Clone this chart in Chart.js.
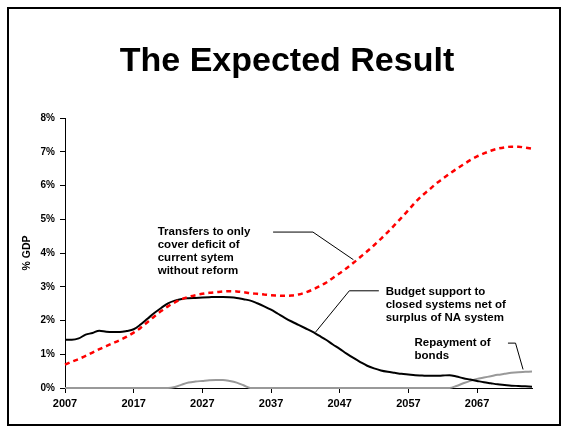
<!DOCTYPE html>
<html>
<head>
<meta charset="utf-8">
<script src="https://cdn.jsdelivr.net/npm/chart.js@4.4.1/dist/chart.umd.min.js"></script>
<style>
    body { margin: 0; background: #fff; }
    #box { width: 563px; height: 428px; }
</style>
</head>
<body>
<div id="box"><canvas id="graficoResultado"></canvas></div>
<script>
const anos = [];
for (let a = 2007; a <= 2075; a++) anos.push(a);

const anosTick = [2007, 2017, 2027, 2037, 2047, 2057, 2067];

const titulo = 'The Expected Result';

// Budget support to closed systems net of surplus of NA system
const apoioOrcamento = [
    1.43, 1.43, 1.47, 1.58, 1.63, 1.70, 1.67, 1.66, 1.66, 1.69,
    1.74, 1.88, 2.05, 2.22, 2.37, 2.51, 2.59, 2.64, 2.66, 2.67,
    2.68, 2.69, 2.70, 2.70, 2.69, 2.67, 2.63, 2.59, 2.51, 2.42,
    2.32, 2.20, 2.08, 1.97, 1.87, 1.77, 1.67, 1.55, 1.43, 1.29,
    1.16, 1.02, 0.89, 0.77, 0.66, 0.58, 0.52, 0.48, 0.45, 0.42,
    0.40, 0.38, 0.37, 0.36, 0.36, 0.37, 0.38, 0.34, 0.29, 0.25,
    0.21, 0.17, 0.14, 0.11, 0.09, 0.07, 0.06, 0.05, 0.04
];

// Transfers to only cover deficit of current system without reform
const transferencias = [
    0.69, 0.78, 0.86, 0.95, 1.05, 1.15, 1.24, 1.33, 1.42, 1.52,
    1.64, 1.78, 1.95, 2.12, 2.28, 2.42, 2.54, 2.63, 2.70, 2.75,
    2.79, 2.82, 2.84, 2.86, 2.87, 2.86, 2.84, 2.81, 2.79, 2.77,
    2.75, 2.74, 2.73, 2.74, 2.77, 2.83, 2.91, 3.01, 3.12, 3.26,
    3.40, 3.55, 3.71, 3.88, 4.05, 4.23, 4.42, 4.62, 4.83, 5.05,
    5.27, 5.50, 5.70, 5.87, 6.05, 6.20, 6.35, 6.49, 6.62, 6.75,
    6.86, 6.95, 7.03, 7.09, 7.13, 7.15, 7.15, 7.12, 7.09
];

// Repayment of bonds
const pagamentoTitulos = [
    0, 0, 0, 0, 0, 0, 0, 0, 0, 0,
    0, 0, 0, 0, 0, 0, 0.03, 0.10, 0.16, 0.19,
    0.21, 0.23, 0.24, 0.24, 0.21, 0.16, 0.08, 0, 0, 0,
    0, 0, 0, 0, 0, 0, 0, 0, 0, 0,
    0, 0, 0, 0, 0, 0, 0, 0, 0, 0,
    0, 0, 0, 0, 0, 0, 0, 0.06, 0.14, 0.21,
    0.27, 0.31, 0.35, 0.39, 0.42, 0.45, 0.47, 0.48, 0.49
];

// notes: text anchor and connector in data units (year, %)
const notas = [
    { linhas: ['Transfers to only', 'cover deficit of', 'current sytem', 'without reform'],
      texto: [2020.5, 4.62], ligacao: [[2037.3, 4.62], [2043.1, 4.62], [2049.0, 3.80]] },
    { linhas: ['Budget support to', 'closed systems net of', 'surplus of NA system'],
      texto: [2053.7, 2.86], ligacao: [[2052.7, 2.88], [2048.4, 2.88], [2043.5, 1.66]] },
    { linhas: ['Repayment of', 'bonds'],
      texto: [2057.9, 1.33], ligacao: [[2071.5, 1.33], [2072.6, 1.33], [2073.7, 0.55]] }
];

const fonte = 'Liberation Sans, Arial, sans-serif';

const moldura = {
    id: 'moldura',
    beforeDraw(chart) {
        const ctx = chart.ctx;
        ctx.save();
        ctx.fillStyle = '#fff';
        ctx.fillRect(0, 0, chart.width, chart.height);
        ctx.strokeStyle = '#000';
        ctx.lineWidth = 2;
        ctx.strokeRect(8, 8, 552, 417);
        // slide title
        ctx.fillStyle = '#000';
        ctx.font = 'bold 34px ' + fonte;
        ctx.textAlign = 'center';
        ctx.textBaseline = 'middle';
        ctx.fillText(titulo, 287, 62);
        ctx.restore();
    }
};

const anotacoes = {
    id: 'anotacoes',
    afterDatasetsDraw(chart) {
        const ctx = chart.ctx;
        const x = chart.scales.x, y = chart.scales.y;
        ctx.save();
        ctx.fillStyle = '#000';
        ctx.strokeStyle = '#000';
        ctx.lineWidth = 1;
        ctx.font = 'bold 11.5px ' + fonte;
        ctx.textBaseline = 'middle';
        ctx.textAlign = 'left';
        notas.forEach(function (n) {
            const tx = x.getPixelForValue(n.texto[0]);
            const ty = y.getPixelForValue(n.texto[1]);
            n.linhas.forEach(function (l, i) {
                ctx.fillText(l, tx, ty + i * 13);
            });
            ctx.beginPath();
            n.ligacao.forEach(function (p, i) {
                const px = x.getPixelForValue(p[0]);
                const py = y.getPixelForValue(p[1]);
                if (i === 0) ctx.moveTo(px, py); else ctx.lineTo(px, py);
            });
            ctx.stroke();
        });
        ctx.restore();
    }
};

new Chart(document.getElementById('graficoResultado'), {
    type: 'line',
    data: {
        labels: anos,
        datasets: [
            {
                label: 'Transfers',
                data: transferencias,
                borderColor: '#FF0000',
                borderWidth: 2.5,
                borderDash: [5, 4],
                pointRadius: 0,
                cubicInterpolationMode: 'monotone',
                clip: 4
            },
            {
                label: 'Budget support',
                data: apoioOrcamento,
                borderColor: '#000000',
                borderWidth: 2,
                pointRadius: 0,
                cubicInterpolationMode: 'monotone',
                clip: 4
            },
            {
                label: 'Repayment of bonds',
                data: pagamentoTitulos,
                borderColor: '#999999',
                borderWidth: 2,
                pointRadius: 0,
                cubicInterpolationMode: 'monotone',
                clip: 4
            }
        ]
    },
    options: {
        responsive: true,
        maintainAspectRatio: false,
        animation: false,
        layout: { padding: { left: 0, right: 31, top: 118, bottom: 0 } },
        plugins: {
            legend: { display: false },
            tooltip: { enabled: false },
            title: { display: false }
        },
        scales: {
            x: {
                type: 'linear',
                min: 2007,
                max: 2075,
                afterBuildTicks: function (scale) {
                    scale.ticks = anosTick.map(function (v) { return { value: v }; });
                },
                afterFit: function (scale) { scale.height = 40; },
                ticks: {
                    color: '#000',
                    font: { family: fonte, size: 11, weight: 'bold' },
                    padding: 4,
                    maxRotation: 0,
                    callback: function (v) { return String(v); }
                },
                grid: { drawOnChartArea: false, drawTicks: true, tickLength: 5, color: '#000' },
                border: { color: '#000', width: 1 }
            },
            y: {
                min: 0,
                max: 8,
                afterFit: function (scale) { scale.width = 65; },
                ticks: {
                    stepSize: 1,
                    color: '#000',
                    font: { family: fonte, size: 10, weight: 'bold' },
                    padding: 5,
                    callback: function (v) { return v + '%'; }
                },
                title: {
                    display: true,
                    text: '% GDP',
                    color: '#000',
                    font: { family: fonte, size: 10.5, weight: 'bold' },
                    padding: { top: 21, bottom: 0 }
                },
                grid: { drawOnChartArea: false, drawTicks: true, tickLength: 5, color: '#000' },
                border: { color: '#000', width: 1 }
            }
        }
    },
    plugins: [moldura, anotacoes]
});
</script>
</body>
</html>
